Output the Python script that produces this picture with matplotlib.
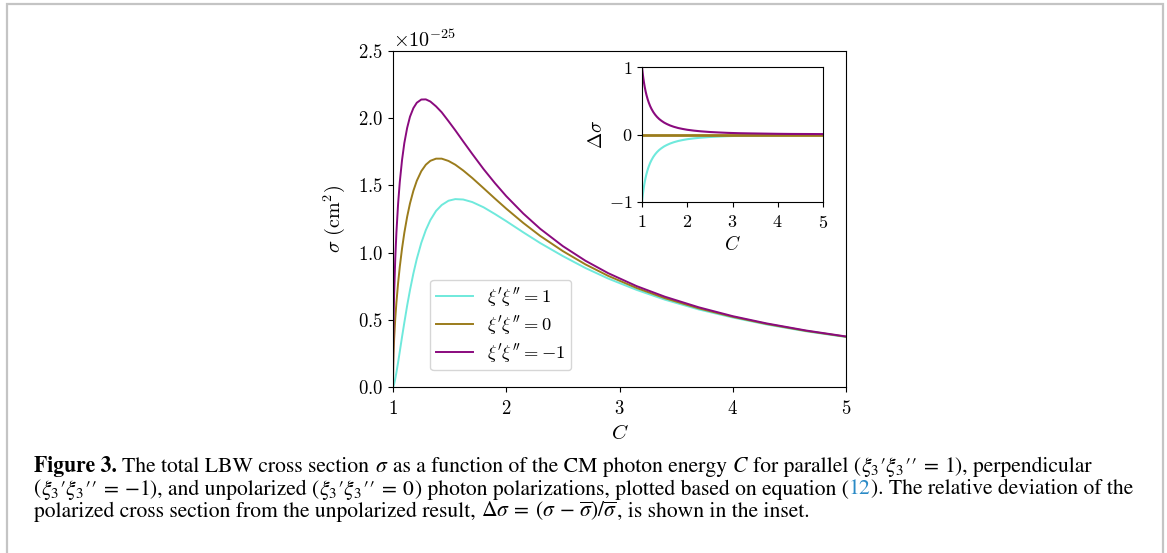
import matplotlib
matplotlib.use("Agg")
import matplotlib.pyplot as plt
from matplotlib.patches import Rectangle
import numpy as np

# CM photon energy C (grid)
C_VALS = [1.0, 1.002, 1.005, 1.01, 1.02, 1.03, 1.045, 1.06, 1.08, 1.10, 1.125, 1.15, 1.18,
          1.21, 1.25, 1.29, 1.33, 1.38, 1.43, 1.49, 1.55, 1.62, 1.70, 1.80, 1.90, 2.0,
          2.15, 2.3, 2.5, 2.7, 2.9, 3.15, 3.4, 3.7, 4.0, 4.3, 4.65, 5.0]

# sigma in units of 1e-25 cm^2
SIG_PAR = [0.000, 0.002, 0.008, 0.022, 0.061, 0.107, 0.183, 0.264, 0.374, 0.479, 0.606, 0.721, 0.845,
           0.953, 1.073, 1.168, 1.242, 1.310, 1.354, 1.386, 1.398, 1.395, 1.376, 1.337, 1.287, 1.234,
           1.151, 1.071, 0.974, 0.885, 0.807, 0.723, 0.650, 0.577, 0.517, 0.465, 0.414, 0.372]
SIG_UNPOL = [0.000, 0.158, 0.251, 0.357, 0.509, 0.627, 0.773, 0.895, 1.032, 1.147, 1.267, 1.366, 1.460,
             1.534, 1.606, 1.654, 1.683, 1.699, 1.699, 1.682, 1.654, 1.611, 1.555, 1.479, 1.402, 1.327,
             1.221, 1.124, 1.011, 0.912, 0.827, 0.737, 0.661, 0.585, 0.522, 0.469, 0.417, 0.374]
SIG_PERP = [0.000, 0.314, 0.494, 0.692, 0.957, 1.147, 1.363, 1.526, 1.690, 1.815, 1.928, 2.011, 2.075,
            2.115, 2.139, 2.140, 2.124, 2.088, 2.044, 1.978, 1.910, 1.827, 1.734, 1.621, 1.517, 1.420,
            1.291, 1.177, 1.048, 0.939, 0.847, 0.751, 0.672, 0.593, 0.527, 0.473, 0.420, 0.376]

# relative deviation for the inset
DEV_PAR = [-1.000, -0.987, -0.968, -0.937, -0.881, -0.830, -0.763, -0.705, -0.638, -0.582, -0.522, -0.472, -0.421,
           -0.379, -0.332, -0.294, -0.262, -0.229, -0.203, -0.176, -0.155, -0.134, -0.115, -0.096, -0.082, -0.070,
           -0.057, -0.047, -0.037, -0.030, -0.024, -0.019, -0.016, -0.013, -0.010, -0.008, -0.007, -0.006]
DEV_UNPOL = [0.0] * len(C_VALS)
DEV_PERP = [1.000, 0.987, 0.968, 0.937, 0.881, 0.830, 0.763, 0.705, 0.638, 0.582, 0.522, 0.472, 0.421,
            0.379, 0.332, 0.294, 0.262, 0.229, 0.203, 0.176, 0.155, 0.134, 0.115, 0.096, 0.082, 0.070,
            0.057, 0.047, 0.037, 0.030, 0.024, 0.019, 0.016, 0.013, 0.010, 0.008, 0.007, 0.006]

LABELS = [r"$\xi'\xi''=1$", r"$\xi'\xi''=0$", r"$\xi'\xi''=-1$"]
COLORS = ["#6fe9dc", "#9b7c1c", "#8a0a7e"]

plt.rcParams.update({
    "font.family": "serif",
    "font.serif": ["cmr10"],
    "mathtext.fontset": "cm",
    "axes.formatter.use_mathtext": True,
    "axes.unicode_minus": True,
})

W, H = 1167, 553
fig = plt.figure(figsize=(W / 100, H / 100), dpi=100)

# main axes
ax = fig.add_axes([393 / W, 1 - 387 / H, 453 / W, 336 / H])
for ys, lab, col in zip([SIG_PAR, SIG_UNPOL, SIG_PERP], LABELS, COLORS):
    ax.plot(C_VALS, np.array(ys) * 1e-25, color=col, lw=1.4, label=lab)
ax.set_xlim(1, 5)
ax.set_ylim(0, 2.5e-25)
ax.set_xticks([1, 2, 3, 4, 5])
ax.set_yticks(np.array([0, 0.5, 1.0, 1.5, 2.0, 2.5]) * 1e-25)
ax.tick_params(labelsize=13.5)
ax.tick_params(axis="x", pad=6)
ax.yaxis.get_offset_text().set_fontsize(14.5)
ax.set_xlabel(r"$C$", fontsize=15, labelpad=4)
ax.set_ylabel(r"$\sigma\ (\mathrm{cm}^2)$", fontsize=14.5, labelpad=8)
ax.legend(loc="lower left", bbox_to_anchor=(0.082, 0.05), borderaxespad=0,
          fontsize=13.3, handlelength=2.0, labelspacing=0.25, borderpad=0.3)

# inset
axi = fig.add_axes([642 / W, 1 - 202 / H, 181 / W, 135 / H])
for ys, col, lw in zip([DEV_PAR, DEV_UNPOL, DEV_PERP], COLORS, [1.5, 2.0, 1.5]):
    axi.plot(C_VALS, ys, color=col, lw=lw)
axi.set_xlim(1, 5)
axi.set_ylim(-1, 1)
axi.set_xticks([1, 2, 3, 4, 5])
axi.set_yticks([-1, 0, 1])
axi.tick_params(labelsize=13)
axi.tick_params(axis="x", pad=5)
axi.set_xlabel(r"$C$", fontsize=14, labelpad=3)
axi.set_ylabel(r"$\Delta\sigma$", fontsize=14, labelpad=2)

# light grey frame round the figure
fig.patches.append(Rectangle((7 / W, -0.1), 1156 / W, 1.1 - 4 / H, transform=fig.transFigure,
                             fill=False, edgecolor="#c4c4c4", lw=1.6))

# caption, laid out piece by piece
FS = 15.6
BLUE = "#2a8ac6"
rend = fig.canvas.get_renderer()


def text_w(s, **kw):
    t = fig.text(0, 0, s, family="STIXGeneral", fontsize=FS, math_fontfamily="stix", **kw)
    w = t.get_window_extent(renderer=rend).width
    t.remove()
    return w


SPACE = text_w("x x") - text_w("xx")


def put_line(pieces, x0, ybase):
    x = x0
    for s, style, gap in pieces:
        kw = {"color": "black"}
        if style == "bold":
            kw["weight"] = "bold"
        elif style == "italic":
            kw["style"] = "italic"
        elif style == "blue":
            kw["color"] = BLUE
        t = fig.text(x / W, 1 - ybase / H, s, family="STIXGeneral", fontsize=FS,
                     math_fontfamily="stix", va="baseline", ha="left", **kw)
        x += t.get_window_extent(renderer=rend).width + gap * SPACE


XI = "$\\xi_3\u2032\\xi_3\u2032\u2032\\:=\\:%s$"
put_line([("Figure 3.", "bold", 1),
          ("The total LBW cross section", "", 1),
          (r"$\sigma$", "", 1),
          ("as a function of the CM photon energy", "", 1),
          ("C", "italic", 1),
          ("for parallel (", "", 0),
          (XI % "1", "", 0),
          ("), perpendicular", "", 0)], 34, 472)
put_line([("(", "", 0),
          (XI % "{-}1", "", 0),
          ("), and unpolarized (", "", 0),
          (XI % "0", "", 0),
          (") photon polarizations, plotted based on equation (", "", 0),
          ("12", "blue", 0),
          ("). The relative deviation of the", "", 0)], 34, 494.5)
put_line([("polarized cross section from the unpolarized result,", "", 1),
          (r"$\Delta\sigma\:=\:(\sigma\,-\,\overline{\sigma})/\overline{\sigma}$", "", 0),
          (", is shown in the inset.", "", 0)], 34, 517)

fig.savefig("out.png", dpi=100)
